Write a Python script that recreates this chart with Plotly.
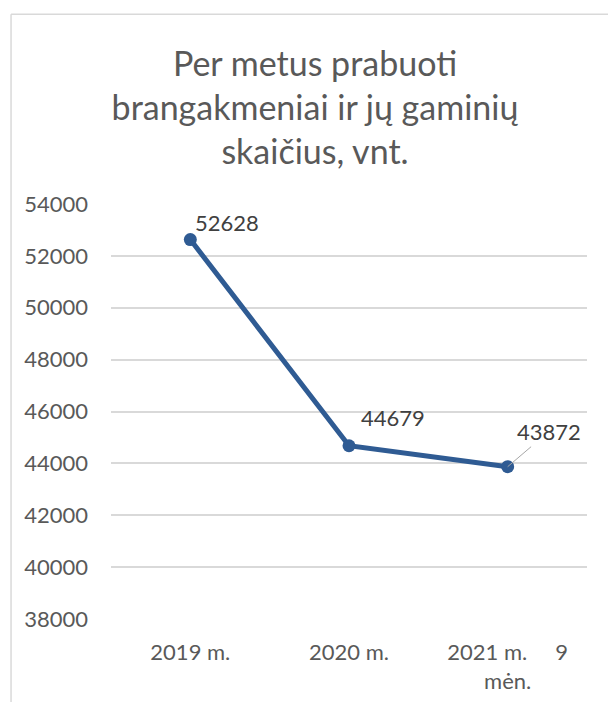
import plotly.graph_objects as go

categories = ["2019 m.", "2020 m.", "2021 m.\u00a0\u00a0\u00a0\u00a0 9<br>mėn."]
values = [52628, 44679, 43872]
y_ticks = [38000, 40000, 42000, 44000, 46000, 48000, 50000, 52000, 54000]
title_text = "Per metus prabuoti<br>brangakmeniai ir jų gaminių<br>skaičius, vnt."

FONT = "Lato, 'Open Sans', sans-serif"
LINE_COLOR = "#2F5B93"

fig = go.Figure()
fig.add_trace(go.Scatter(
    x=categories, y=values, mode="lines+markers",
    line=dict(color=LINE_COLOR, width=5),
    marker=dict(color=LINE_COLOR, size=13),
    hoverinfo="skip", showlegend=False,
))

# data labels
label_offsets = [(37, 17, False), (44, 28, False), (41, 35, True)]
for cat, val, (dx, dy, leader) in zip(categories, values, label_offsets):
    if leader:
        fig.add_annotation(x=cat, y=val, text=str(val), showarrow=True,
                           arrowhead=0, arrowwidth=1, arrowcolor="#A6A6A6",
                           ax=dx, ay=-dy, standoff=0,
                           font=dict(family=FONT, size=22, color="#404040"))
    else:
        fig.add_annotation(x=cat, y=val, text=str(val), showarrow=False,
                           xshift=dx, yshift=dy,
                           font=dict(family=FONT, size=22, color="#404040"))

# chart area border (top and left edges visible in the frame)
fig.add_shape(type="line", xref="paper", yref="paper",
              x0=-0.21, x1=1.2, y0=1.457, y1=1.457,
              line=dict(color="#D9D9D9", width=1.5), layer="above")
fig.add_shape(type="line", xref="paper", yref="paper",
              x0=-0.21, x1=-0.21, y0=-0.5, y1=1.457,
              line=dict(color="#D9D9D9", width=1.5), layer="above")

fig.update_layout(
    width=608, height=702,
    margin=dict(l=111, r=21, t=204, b=83, autoexpand=False),
    paper_bgcolor="white", plot_bgcolor="white",
    title=dict(text=title_text, xref="container", x=315/608, xanchor="center",
               yref="container", y=1 - 76/702, yanchor="top",
               font=dict(family=FONT, size=34, color="#595959")),
    xaxis=dict(type="category", range=[-0.5, 2.5], showgrid=False,
               showline=False, ticks="", zeroline=False, automargin=False,
               ticklabelstandoff=18,
               tickfont=dict(family=FONT, size=22, color="#595959")),
    yaxis=dict(range=[38000, 54000], tickvals=y_ticks,
               ticktext=[str(v) for v in y_ticks], automargin=False,
               showgrid=True, gridcolor="#D9D9D9", gridwidth=1.5,
               zeroline=False, showline=False, ticks="",
               ticklabelstandoff=22,
               tickfont=dict(family=FONT, size=22, color="#595959")),
)

fig.write_html("out.html", config={"displayModeBar": False},
               post_script="document.body.style.margin='0px';")
